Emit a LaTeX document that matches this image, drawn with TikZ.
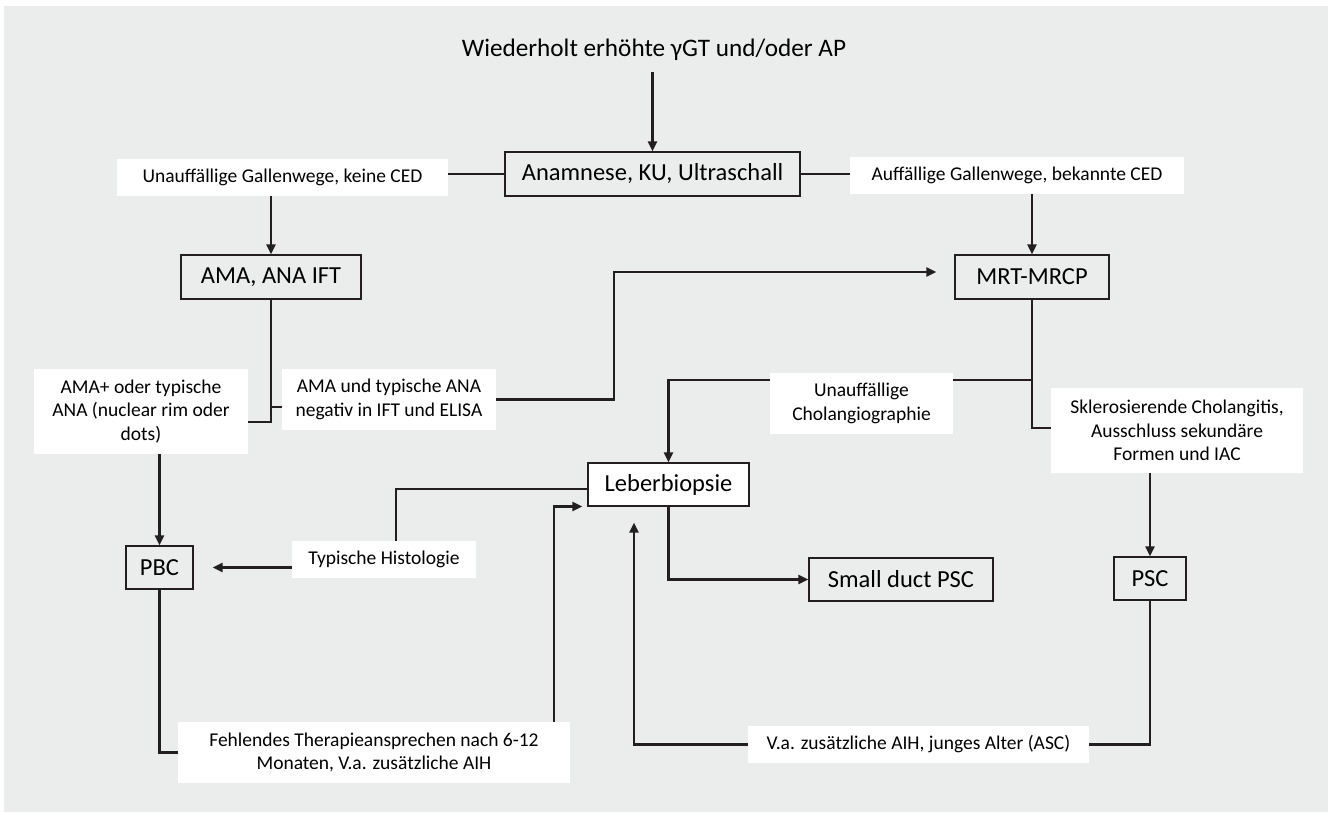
\documentclass[tikz,border=0pt]{standalone}
\usepackage{fontspec}
\setmainfont{Carlito}
\usetikzlibrary{arrows.meta}
\definecolor{bggrey}{RGB}{235,236,236}
\definecolor{linegrey}{RGB}{35,31,32}

\begin{document}
\begin{tikzpicture}[x=1pt, y=-1pt,
        box/.style={draw=linegrey, line width=1.2pt, fill=bggrey, inner sep=0pt, font=\fontsize{24.5}{28}\selectfont},
        lbl/.style={fill=white, inner sep=0pt, align=center, font=\fontsize{19.5}{23.3}\selectfont},
        arr/.style={-{Triangle[length=10pt, width=9pt]}},
        conn/.style={draw=linegrey, line width=2.4pt}]
        \useasboundingbox (0,0) rectangle (1333,813);
        \fill[bggrey] (4,6) rectangle (1328,812);

        \node (title) at (654,50) {\fontsize{25.2}{30}\selectfont Wiederholt erhöhte γGT und/oder AP};
        \node[box, minimum width=295pt, minimum height=44pt] (anam) at (652.5,174) {Anamnese, KU, Ultraschall};

        \node[lbl, minimum width=331pt, minimum height=37pt] (lblL) at (282.5,177.5) {Unauffällige Gallenwege, keine CED};
        \node[lbl, minimum width=334pt, minimum height=37pt] (lblR) at (1017,175.5) {Auffällige Gallenwege, bekannte CED};

        \node[box, minimum width=180pt, minimum height=44pt] (ama) at (271,277) {AMA, ANA IFT};
        \node[box, minimum width=154pt, minimum height=44pt] (mrt) at (1032,277) {MRT-MRCP};

        \node[lbl, minimum width=214pt, minimum height=85pt] (amapos) at (141,411.5) {AMA+ oder typische\\ANA (nuclear rim oder\\dots)};
        \node[lbl, minimum width=214pt, minimum height=61pt] (amaneg) at (389,399.5) {AMA und typische ANA\\negativ in IFT und ELISA};
        \node[lbl, minimum width=183pt, minimum height=61pt] (chol) at (861.5,403.5) {Unauffällige\\Cholangiographie};
        \node[lbl, minimum width=252pt, minimum height=85pt] (skl) at (1177,430.5) {Sklerosierende Cholangitis,\\Ausschluss sekundäre\\Formen und IAC};

        \node[box, fill=white, minimum width=161pt, minimum height=43pt] (leber) at (668.5,484.5) {Leberbiopsie};
        \node[box, minimum width=67pt, minimum height=43pt] (pbc) at (159.5,567.5) {PBC};
        \node[lbl, minimum width=184pt, minimum height=37pt] (hist) at (384,559.5) {Typische Histologie};
        \node[box, minimum width=184pt, minimum height=43pt] (small) at (901,579.5) {Small duct PSC};
        \node[box, minimum width=72pt, minimum height=43pt] (psc) at (1150,578.5) {PSC};

        \node[lbl, minimum width=392pt, minimum height=61pt] (fehl) at (374,752.5) {Fehlendes Therapieansprechen nach 6-12\\Monaten, V.a. zusätzliche AIH};
        \node[lbl, minimum width=341pt, minimum height=37pt] (va) at (918.5,744.5) {V.a. zusätzliche AIH, junges Alter (ASC)};

        % helper points where lines meet
        \coordinate (amaJoin) at (ama.south |- 0,422);
        \coordinate (negJoin) at (ama.south |- 0,407);
        \coordinate (cholJoin) at ([yshift=23.5pt]chol.east);

        \draw[conn, arr, shorten <=8pt] (title.south -| anam.north) -- (anam.north);
        \draw[conn] (anam.west) -- (anam.west -| lblL.east);
        \draw[conn] (anam.east) -- (anam.east -| lblR.west);
        \draw[conn, arr] (lblL.south -| ama.north) -- (ama.north);
        \draw[conn, arr] (lblR.south -| mrt.north) -- (mrt.north);

        \draw[conn] (ama.south) -- (amaJoin) -- (amaJoin -| amapos.east);
        \draw[conn] (negJoin) -- (negJoin -| amaneg.west);
        \draw[conn, arr, shorten >=18pt] (amaneg.east) -- ++(118,0) |- ([yshift=5pt]mrt.west);
        \draw[conn, arr] (amapos.south -| pbc.north) -- (pbc.north);

        \draw[conn] (mrt.south) |- ([yshift=2.5pt]skl.west);
        \draw[conn] (cholJoin) -- (cholJoin -| mrt.south);
        \draw[conn, arr] ([yshift=23.5pt]chol.west) -| (leber.north);
        \draw[conn, arr] (skl.south -| psc.north) -- (psc.north);

        \draw[conn, arr] (leber.south) |- (small.west);
        \draw[conn] ([yshift=-4.5pt]leber.west) -| ([xshift=12pt]hist.north);
        \draw[conn, arr, shorten >=19pt] (hist.west |- pbc.east) -- (pbc.east);

        \draw[conn] (pbc.south) |- (fehl.west);
        \draw[conn, arr, shorten >=5pt] ([xshift=-16pt]fehl.north east) |- ([yshift=-22pt]leber.west);
        \draw[conn] (psc.south) |- (va.east);
        \draw[conn, arr, shorten >=16pt] (va.west) -| ([xshift=-34.5pt]leber.south);
    \end{tikzpicture}
\end{document}
